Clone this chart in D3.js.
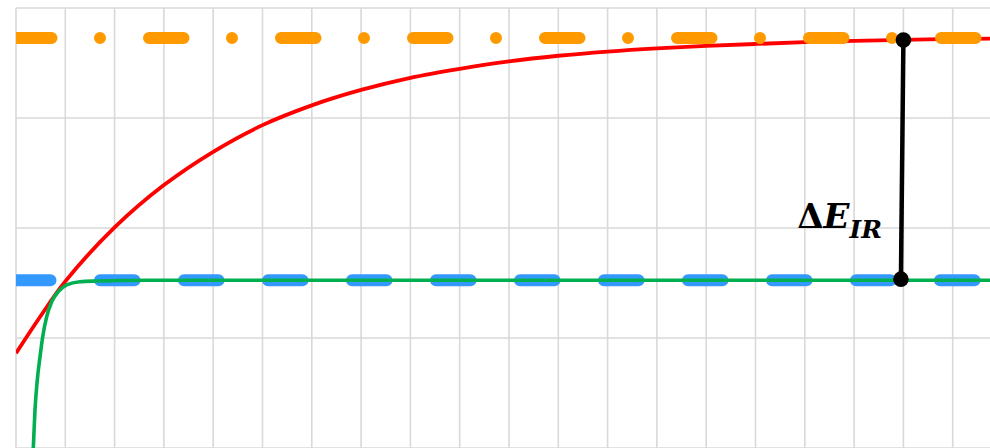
<!DOCTYPE html>
<html>
<head>
<meta charset="utf-8">
<script src="https://cdn.jsdelivr.net/npm/d3@7"></script>
<style>
  html, body { margin: 0; padding: 0; background: #fff; }
  svg { display: block; }
</style>
</head>
<body>
<svg id="chart" width="990" height="448"></svg>
<script>
// ---- data ----
const gridX = [0,1,2,3,4,5,6,7,8,9,10,11,12,13,14,15,16,17,18,19,20];
const gridY = [0,1,2,3,4];

const redX = [0, 0.5, 1, 2, 3, 4, 5, 6, 7, 8, 9, 10, 11, 12, 13, 14, 15, 16, 17, 18, 19, 20];
const redY = [0.861, 1.200, 1.515, 2.005, 2.390, 2.693, 2.935, 3.115, 3.255, 3.365, 3.447, 3.515,
              3.566, 3.604, 3.633, 3.655, 3.673, 3.689, 3.701, 3.711, 3.718, 3.722];

const greenX = [0.318, 0.351, 0.385, 0.432, 0.487, 0.542, 0.623, 0.724, 0.858, 1.028, 1.298, 1.637, 2.11, 3, 20];
const greenY = [-0.29, 0.0, 0.345, 0.618, 0.830, 1.012, 1.194, 1.330, 1.421, 1.482, 1.512, 1.518, 1.523, 1.525, 1.525];

const orangeLevel = 3.728;
const blueLevel = 1.525;

const deltaX = [18.0, 17.95];
const deltaY = [3.709, 1.535];
const deltaLabel = "ΔE";
const deltaSub = "IR";

// ---- layout ----
const x = d3.scaleLinear().domain([0, 20]).range([16, 1002]);
const y = d3.scaleLinear().domain([0, 4]).range([448, 8]);

const svg = d3.select("#chart");
svg.append("defs").append("clipPath").attr("id", "plot")
  .append("rect").attr("x", x(0)).attr("y", y(4)).attr("width", x(20) - x(0)).attr("height", y(0) - y(4));

// grid
const grid = svg.append("g");
grid.selectAll("line.v").data(gridX).join("line")
  .attr("x1", d => x(d)).attr("x2", d => x(d))
  .attr("y1", y(4)).attr("y2", y(0))
  .attr("stroke", "#d9d9d9").attr("stroke-width", 1.6);
grid.selectAll("line.h").data(gridY).join("line")
  .attr("x1", x(0)).attr("x2", x(20))
  .attr("y1", d => y(d)).attr("y2", d => y(d))
  .attr("stroke", "#d9d9d9").attr("stroke-width", 1.6);

const plot = svg.append("g").attr("clip-path", "url(#plot)");
const line = d3.line().x(d => x(d[0])).y(d => y(d[1]));
const smooth = d3.line().x(d => x(d[0])).y(d => y(d[1])).curve(d3.curveMonotoneX);
const smoothR = d3.line().x(d => x(d[0])).y(d => y(d[1])).curve(d3.curveCatmullRom.alpha(0.5));

// blue dashed level
plot.append("path")
  .attr("d", line([[0, blueLevel], [20, blueLevel]]))
  .attr("fill", "none").attr("stroke", "#3399ff").attr("stroke-width", 12)
  .attr("stroke-linecap", "round").attr("stroke-dasharray", "34.5,49.5").attr("stroke-dashoffset", 0);

// red curve
plot.append("path")
  .attr("d", smoothR(redX.map((v, i) => [v, redY[i]])))
  .attr("fill", "none").attr("stroke", "#ff0000").attr("stroke-width", 3.8);

// green curve
plot.append("path")
  .attr("d", smooth(greenX.map((v, i) => [v, greenY[i]])))
  .attr("fill", "none").attr("stroke", "#00b050").attr("stroke-width", 3.6);

// orange dash-dot level
plot.append("path")
  .attr("d", line([[0, orangeLevel], [20, orangeLevel]]))
  .attr("fill", "none").attr("stroke", "#ff9900").attr("stroke-width", 12)
  .attr("stroke-linecap", "round").attr("stroke-dasharray", "34.5,48.5,0,49").attr("stroke-dashoffset", 131);

// delta marker
const pts = deltaX.map((v, i) => [v, deltaY[i]]);
plot.append("path").attr("d", line(pts))
  .attr("fill", "none").attr("stroke", "#000").attr("stroke-width", 4.5);
plot.selectAll("circle.d").data(pts).join("circle")
  .attr("cx", d => x(d[0])).attr("cy", d => y(d[1])).attr("r", 7.8).attr("fill", "#000");

// label
const t = svg.append("text")
  .attr("x", x(deltaX[1]) - 19).attr("y", y(2.0))
  .attr("text-anchor", "end")
  .attr("font-family", "'DejaVu Serif', 'Liberation Serif', serif")
  .attr("font-weight", "bold").attr("fill", "#000");
t.append("tspan").attr("font-size", 34).attr("font-style", "normal").text(deltaLabel[0]);
t.append("tspan").attr("font-size", 34).attr("font-style", "italic").text(deltaLabel[1]);
t.append("tspan").attr("font-size", 25).attr("font-style", "italic").attr("dy", 10).text(deltaSub);
</script>
</body>
</html>
